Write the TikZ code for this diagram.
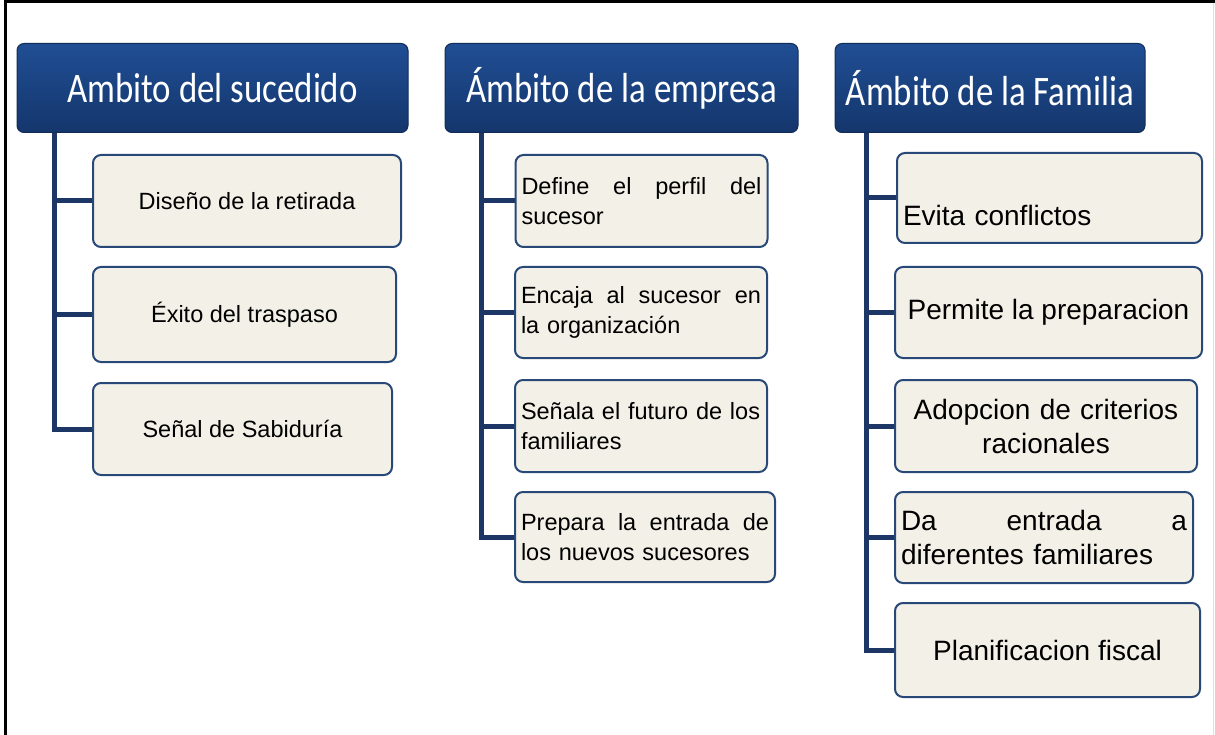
\documentclass[tikz,border=0pt]{standalone}
\usepackage{fontspec}
\setmainfont{Liberation Sans}
\newfontfamily\headfont[FakeStretch=0.83]{Carlito}
\usepackage{tikz}
\usepackage{xcolor}
\definecolor{HeadTop}{RGB}{32,78,148}
\definecolor{HeadBot}{RGB}{20,54,108}
\definecolor{HeadEdge}{RGB}{18,44,88}
\definecolor{BoxFill}{RGB}{243,241,231}
\definecolor{BoxEdge}{RGB}{40,72,120}
\definecolor{LineBlue}{RGB}{28,55,102}
\tikzstyle{HeadBox}=[rectangle,rounded corners=7pt,draw=HeadEdge,line width=1pt,
top color=HeadTop,bottom color=HeadBot,text=white,inner sep=0pt,minimum height=89pt,
font=\headfont\fontsize{42}{46}\selectfont]
\tikzstyle{ItemBox}=[rectangle,rounded corners=8pt,draw=BoxEdge,line width=2pt,
fill=BoxFill,inner xsep=6pt,inner ysep=0pt,minimum height=92pt]
\tikzstyle{SmallText}=[font=\fontsize{23.5}{30}\selectfont]
\tikzstyle{BigText}=[font=\fontsize{28}{34}\selectfont]
\tikzstyle{EdgeTree}=[LineBlue,line width=5pt]

\begin{document}
\begin{tikzpicture}[x=1pt,y=-1pt]
        \useasboundingbox(0,0)rectangle(1215,735);
        \draw[line width=3pt](5.5,735)--(5.5,1.5)--(1215,1.5);
        \draw[black!12,line width=1pt](1213,3)--(1213,735);
        % headers
        \node[HeadBox,minimum width=391pt](h1)at(212.5,88){Ambito del sucedido};
        \node[HeadBox,minimum width=353pt](h2)at(621.5,88){Ámbito de la empresa};
        \node[HeadBox,minimum width=310pt](h3)at(990,88){Ámbito de la Familia};
        % first column
        \node[ItemBox,SmallText,minimum width=308pt](a1)at(247,201){Diseño de la retirada};
        \node[ItemBox,SmallText,minimum width=303pt,minimum height=95pt](a2)at(244.5,314.5){Éxito del traspaso};
        \node[ItemBox,SmallText,minimum width=299pt](a3)at(242.5,429){Señal de Sabiduría};
        % second column
        \node[ItemBox,SmallText,text width=240pt,align=left](b1)at(641.5,201){Define\hfill el\hfill perfil\hfill del\\sucesor};
        \node[ItemBox,SmallText,text width=240pt,align=left,minimum height=91pt](b2)at(641,312.5){Encaja\hfill al\hfill sucesor\hfill en\\la organización};
        \node[ItemBox,SmallText,text width=240pt,align=left](b3)at(641,426){Señala el futuro de los\\familiares};
        \node[ItemBox,SmallText,text width=248pt,align=left,minimum height=90pt](b4)at(645,537){Prepara\hfill la\hfill entrada\hfill de\\los nuevos sucesores};
        % third column
        \node[ItemBox,BigText,text width=293pt,align=left,minimum height=90pt,
            text height=56pt,text depth=0pt](c1)at(1049.5,198){Evita conflictos};
        \node[ItemBox,BigText,minimum width=307pt,minimum height=91pt](c2)at(1048.5,312.5){Permite la preparacion};
        \node[ItemBox,BigText,text width=290pt,align=center](c3)at(1046,426){Adopcion de criterios\\racionales};
        \node[ItemBox,BigText,text width=286pt,align=left,minimum height=91pt](c4)at(1044,537.5){Da\hfill entrada\hfill a\\diferentes familiares};
        \node[ItemBox,BigText,minimum width=305pt,minimum height=94pt](c5)at(1047.5,650){Planificacion fiscal};
        % trunks
        \coordinate(r1)at([xshift=38pt]h1.south west);
        \coordinate(r2)at([xshift=37pt]h2.south west);
        \coordinate(r3)at([xshift=32pt]h3.south west);
        \foreach \k in {a1,a2,a3}{\draw[EdgeTree](r1)|-(\k.west);}
        \foreach \k in {b1,b2,b3,b4}{\draw[EdgeTree](r2)|-(\k.west);}
        \foreach \k in {c1,c2,c3,c4,c5}{\draw[EdgeTree](r3)|-(\k.west);}
    \end{tikzpicture}
\end{document}
